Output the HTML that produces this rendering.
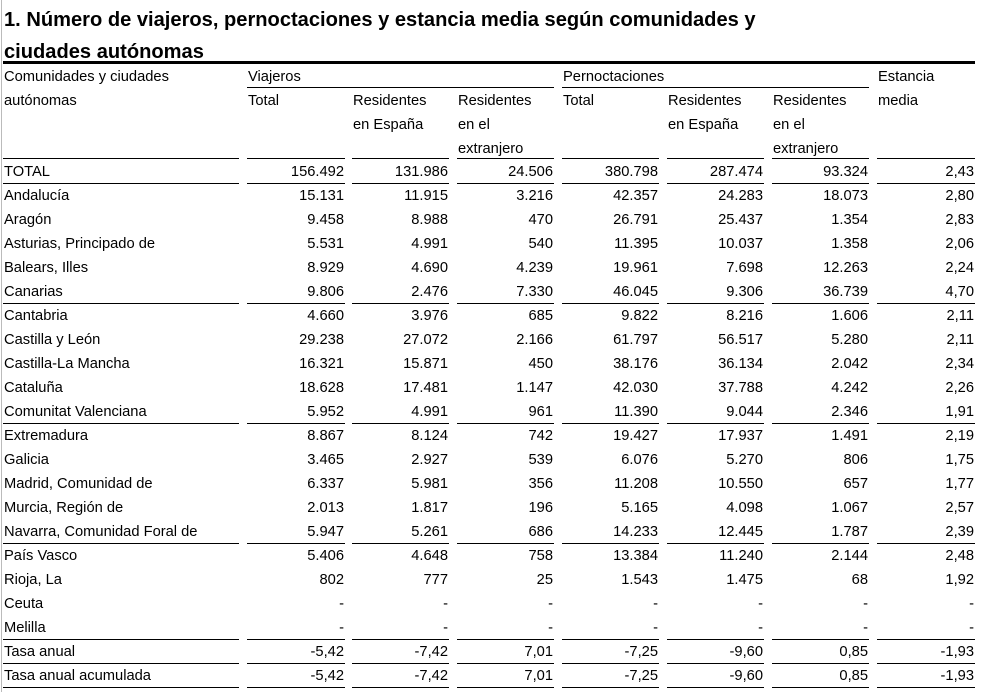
<!DOCTYPE html>
<html><head><meta charset="utf-8">
<style>
body{margin:0;width:981px;height:692px;background:#fff;position:relative;overflow:hidden;font-family:"Liberation Sans",Arial,sans-serif;color:#000}
.t{position:absolute;font-size:14.7px;line-height:16px;white-space:nowrap}
.h{position:absolute;font-weight:bold;font-size:20.1px;line-height:22px;left:4px;white-space:nowrap}
.l{position:absolute;height:1px;background:#000}
</style></head>
<body>
<div style="position:absolute;left:1px;top:0;width:1px;height:692px;background:#bbb"></div>
<div class="h" style="top:9px">1. Número de viajeros, pernoctaciones y estancia media según comunidades y</div>
<div class="h" style="top:41px">ciudades autónomas</div>
<div class="l" style="left:3px;width:972px;top:61px;height:3px"></div>
<div id="tbl"></div>
<script>
const cols=[[3,239],[247,345],[352,449],[457,554],[562,659],[667,764],[772,869],[877,975]];
const regions=["TOTAL","Andalucía","Aragón","Asturias, Principado de","Balears, Illes","Canarias","Cantabria","Castilla y León","Castilla-La Mancha","Cataluña","Comunitat Valenciana","Extremadura","Galicia","Madrid, Comunidad de","Murcia, Región de","Navarra, Comunidad Foral de","País Vasco","Rioja, La","Ceuta","Melilla","Tasa anual","Tasa anual acumulada"];
const values=[
["156.492","131.986","24.506","380.798","287.474","93.324","2,43"],
["15.131","11.915","3.216","42.357","24.283","18.073","2,80"],
["9.458","8.988","470","26.791","25.437","1.354","2,83"],
["5.531","4.991","540","11.395","10.037","1.358","2,06"],
["8.929","4.690","4.239","19.961","7.698","12.263","2,24"],
["9.806","2.476","7.330","46.045","9.306","36.739","4,70"],
["4.660","3.976","685","9.822","8.216","1.606","2,11"],
["29.238","27.072","2.166","61.797","56.517","5.280","2,11"],
["16.321","15.871","450","38.176","36.134","2.042","2,34"],
["18.628","17.481","1.147","42.030","37.788","4.242","2,26"],
["5.952","4.991","961","11.390","9.044","2.346","1,91"],
["8.867","8.124","742","19.427","17.937","1.491","2,19"],
["3.465","2.927","539","6.076","5.270","806","1,75"],
["6.337","5.981","356","11.208","10.550","657","1,77"],
["2.013","1.817","196","5.165","4.098","1.067","2,57"],
["5.947","5.261","686","14.233","12.445","1.787","2,39"],
["5.406","4.648","758","13.384","11.240","2.144","2,48"],
["802","777","25","1.543","1.475","68","1,92"],
["-","-","-","-","-","-","-"],
["-","-","-","-","-","-","-"],
["-5,42","-7,42","7,01","-7,25","-9,60","0,85","-1,93"],
["-5,42","-7,42","7,01","-7,25","-9,60","0,85","-1,93"]];
const sepAfter=[0,5,10,15,19,20,21];
const tb=document.getElementById('tbl');
function txt(s,x,y,right,w){const d=document.createElement('div');d.className='t';d.textContent=s;
d.style.top=(y-7)+'px';
if(right){d.style.left=(x-w)+'px';d.style.width=w+'px';d.style.textAlign='right';}else d.style.left=x+'px';
tb.appendChild(d);return d;}
function line(x1,x2,y){const d=document.createElement('div');d.className='l';d.style.left=x1+'px';d.style.width=(x2-x1)+'px';d.style.top=y+'px';tb.appendChild(d);return d;}
const hdr=[["Comunidades y ciudades",4,76],["autónomas",4,100],["Viajeros",248,76],["Pernoctaciones",563,76],["Estancia",878,76],["media",878,100],
["Total",248,100],["Residentes",353,100],["en España",353,124],["Residentes",458,100],["en el",458,124],["extranjero",458,148],
["Total",563,100],["Residentes",668,100],["en España",668,124],["Residentes",773,100],["en el",773,124],["extranjero",773,148]];
hdr.forEach(h=>{const d=txt(h[0],h[1],h[2],false);

});
let g=line(247,554,87);


g=line(562,869,87);


cols.forEach(c=>{const d=line(c[0],c[1],158);

});
regions.forEach((r,i)=>{const y=171+24*i;
const d=txt(r,4,y,false);


values[i].forEach((v,j)=>{const c=cols[j+1];const e=txt(v,c[1]-1,y,true,95);

});
if(sepAfter.indexOf(i)>=0){cols.forEach(c=>{const s=line(c[0],c[1],y+12);

});}
});
</script>
</body></html>
